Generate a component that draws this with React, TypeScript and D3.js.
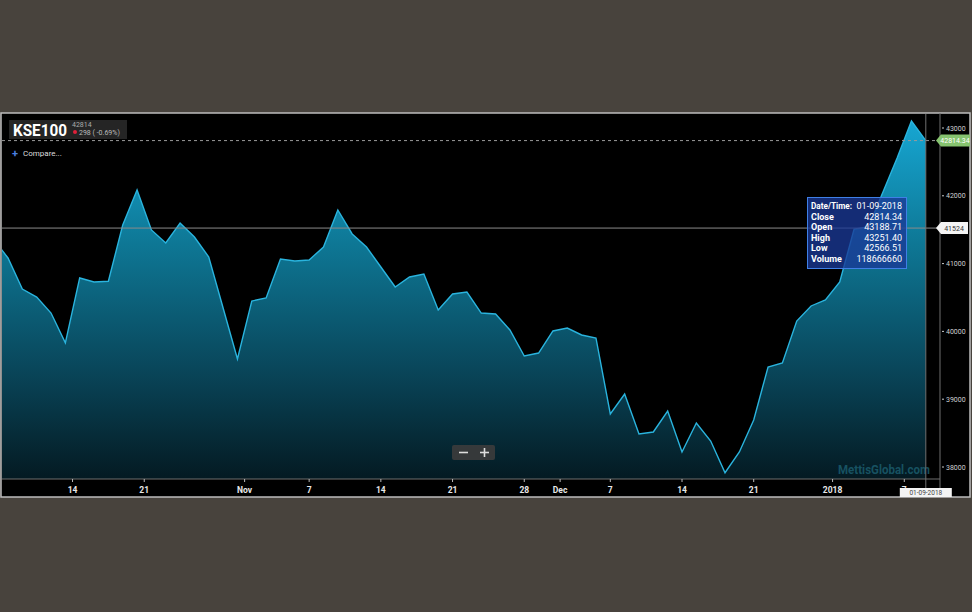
import React from 'react';
import * as d3 from 'd3';

// KSE100 closing values, one per trading day (Oct 6 2017 .. Jan 9 2018)
const closes = [
  41360, 41083, 40625, 40507, 40271, 39830, 40788, 40729, 40740, 41569,
  42085, 41496, 41304, 41599, 41392, 41097, 40345, 39593, 40448, 40493,
  41068, 41038, 41053, 41245, 41791, 41437, 41245, 40950, 40655, 40802,
  40847, 40316, 40552, 40581, 40271, 40257, 40021, 39637, 39681, 40006,
  40050, 39947, 39903, 38782, 39077, 38487, 38516, 38826, 38221, 38649,
  38383, 37915, 38221, 38693, 39475, 39534, 40153, 40375, 40463, 40729,
  41510, 41540, 42049, 42557, 43103, 42814,
];

// x tick labels and their (ordinal) position in trading days
const tickLabels = ['14', '21', 'Nov', '7', '14', '21', '28', 'Dec', '7', '14', '21', '2018', '7'];
const tickPos = [5.5, 10.5, 17.5, 22, 27, 32, 37, 39.5, 43, 48, 53, 58.5, 63.5];

const yTicks = [38000, 39000, 40000, 41000, 42000, 43000];

const tipLabels = ['Date/Time:', 'Close', 'Open', 'High', 'Low', 'Volume'];
const tipValues = ['01-09-2018', '42814.34', '43188.71', '43251.40', '42566.51', '118666660'];

const lastClose = 42814.34;
const crossValue = 41524;

const W = 972;
const H = 612;
const plot = { left: 2, right: 940, top: 114, bottom: 479 };
const font = 'Roboto, "Open Sans", sans-serif';

export default function App() {
  const x = d3.scaleLinear().domain([1, 65]).range([8, 925.8]);
  const y = d3.scaleLinear().domain([38000, 43000]).range([467, 128]);

  const area = d3.area<number>()
    .x((d, i) => x(i))
    .y0(plot.bottom)
    .y1(d => y(d));
  const line = d3.line<number>()
    .x((d, i) => x(i))
    .y(d => y(d));

  const lastX = x(closes.length - 1);
  const crossY = y(crossValue);
  const lastY = y(lastClose);

  return (
    <svg width={W} height={H} style={{ display: 'block', fontFamily: font }}>
      <style>{'body{margin:0;background:#48433d}'}</style>
      <defs>
        <linearGradient id="fillGrad" gradientUnits="userSpaceOnUse" x1="0" y1={plot.top} x2="0" y2={plot.bottom}>
          <stop offset="0" stopColor="#17a9d6" />
          <stop offset="0.35" stopColor="#0e7896" />
          <stop offset="0.7" stopColor="#09465a" />
          <stop offset="1" stopColor="#041a22" />
        </linearGradient>
        <clipPath id="plotClip">
          <rect x={plot.left} y={plot.top} width={plot.right - plot.left} height={plot.bottom - plot.top} />
        </clipPath>
      </defs>

      <rect x={0} y={0} width={W} height={H} fill="#48433d" />
      {/* chart panel */}
      <rect x={1} y={113} width={969} height={384} fill="#000" stroke="#bdbdbd" strokeWidth={1.5} />

      <g clipPath="url(#plotClip)">
        <path d={area(closes) ?? ''} fill="url(#fillGrad)" />
        <path d={line(closes) ?? ''} fill="none" stroke="#2ab4de" strokeWidth={1.4} />
      </g>

      {/* watermark */}
      <text x={930} y={474} textAnchor="end" fontSize={13} fontWeight="bold" fill="#1b5b6c" opacity={0.85}
        textLength={92} lengthAdjust="spacingAndGlyphs">MettisGlobal.com</text>

      {/* last value dashed line */}
      <line x1={plot.left} x2={plot.right} y1={lastY} y2={lastY} stroke="#9a9a9a" strokeDasharray="3,3" />
      {/* crosshairs */}
      <line x1={plot.left} x2={plot.right} y1={crossY} y2={crossY} stroke="#8a8a8a" />
      <line x1={lastX} x2={lastX} y1={plot.top} y2={488} stroke="#707070" />

      {/* axes lines */}
      <line x1={plot.left} x2={plot.right} y1={plot.bottom} y2={plot.bottom} stroke="#6e6e6e" />
      <line x1={plot.right} x2={plot.right} y1={113} y2={497} stroke="#6e6e6e" />

      {/* y axis */}
      {yTicks.map(t => (
        <g key={t} transform={`translate(${plot.right},${y(t)})`}>
          <line x1={2} x2={4} y1={0} y2={0} stroke="#ccc" />
          <text x={6} y={2.5} fontSize={7} fill="#d0d0d0">{t}</text>
        </g>
      ))}

      {/* x axis */}
      {tickLabels.map((lab, i) => (
        <g key={i} transform={`translate(${x(tickPos[i])},${plot.bottom})`}>
          <line y1={0} y2={3} stroke="#bbb" />
          <text y={14} textAnchor="middle" fontSize={8.5} fontWeight="bold" fill="#e8e8e8">{lab}</text>
        </g>
      ))}

      {/* last value label */}
      <path d={`M${plot.right - 4},${lastY} L${plot.right + 1},${lastY - 6} H970 V${lastY + 6} H${plot.right + 1} Z`} fill="#86c36f" />
      <text x={955} y={lastY + 2.5} textAnchor="middle" fontSize={7} fill="#fff">{lastClose.toFixed(2)}</text>

      {/* crosshair value label */}
      <path d={`M${plot.right - 4},${crossY} L${plot.right + 1},${crossY - 6} H968 V${crossY + 6} H${plot.right + 1} Z`} fill="#f4f4f4" />
      <text x={954} y={crossY + 2.5} textAnchor="middle" fontSize={7} fill="#333">{crossValue}</text>

      {/* crosshair date label */}
      <rect x={lastX - 26} y={488} width={52} height={9} fill="#f4f4f4" />
      <text x={lastX} y={495} textAnchor="middle" fontSize={6.5} fill="#444">{tipValues[0]}</text>

      {/* tooltip */}
      <rect x={807.5} y={197.5} width={99} height={71} fill="#1a3896" fillOpacity={0.78} stroke="#3f7fe6" strokeWidth={1} />
      {tipLabels.map((lab, i) => (
        <g key={lab}>
          <text x={811} y={209 + i * 10.6} fontSize={9} fontWeight="bold" fill="#fff"
            textLength={i === 0 ? 41 : undefined} lengthAdjust="spacingAndGlyphs">{lab}</text>
          <text x={902} y={209 + i * 10.6} textAnchor="end" fontSize={9} fill="#fff">{tipValues[i]}</text>
        </g>
      ))}

      {/* title box */}
      <rect x={9} y={120} width={118} height={19} fill="#252525" />
      <text x={13} y={136} fontSize={16} fontWeight="bold" fill="#fff" textLength={54} lengthAdjust="spacingAndGlyphs">KSE100</text>
      <text x={72} y={127} fontSize={7} fill="#aaa">42814</text>
      <circle cx={75} cy={132} r={2} fill="#e0203a" />
      <text x={79} y={134.5} fontSize={7} fill="#bbb">298 ( -0.69%)</text>

      {/* compare */}
      <text x={12} y={156.5} fontSize={11} fontWeight="bold" fill="#4a7fe0">+</text>
      <text x={23} y={155.5} fontSize={8} fill="#ddd">Compare...</text>

      {/* zoom buttons */}
      <rect x={452} y={445} width={43} height={15} rx={2} fill="#3c3c3c" fillOpacity={0.9} />
      <line x1={459} x2={468} y1={452.5} y2={452.5} stroke="#ddd" strokeWidth={1.6} />
      <line x1={480} x2={489} y1={452.5} y2={452.5} stroke="#ddd" strokeWidth={1.6} />
      <line x1={484.5} x2={484.5} y1={448} y2={457} stroke="#ddd" strokeWidth={1.6} />
    </svg>
  );
}
